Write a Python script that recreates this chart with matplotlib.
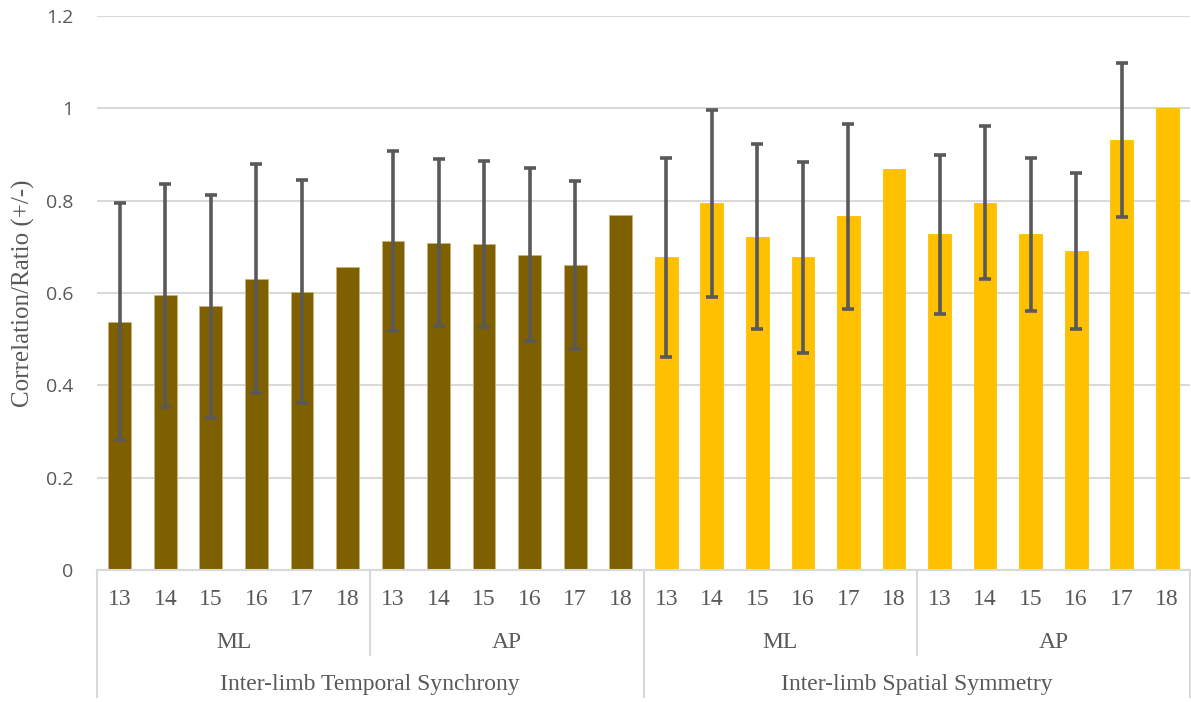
import matplotlib
matplotlib.use("Agg")
import matplotlib.pyplot as plt
import numpy as np
from matplotlib.ticker import FuncFormatter

# ---- data ----
ages = ["13", "14", "15", "16", "17", "18"]
planes = ["ML", "AP"]
measures = ["Inter-limb Temporal Synchrony", "Inter-limb Spatial Symmetry"]

temporal_ml_mean = [0.538, 0.595, 0.571, 0.631, 0.603, 0.657]
temporal_ml_sd = [0.256, 0.242, 0.241, 0.248, 0.242, None]
temporal_ap_mean = [0.712, 0.709, 0.707, 0.683, 0.660, 0.768]
temporal_ap_sd = [0.195, 0.181, 0.180, 0.187, 0.182, None]
spatial_ml_mean = [0.677, 0.794, 0.722, 0.677, 0.766, 0.868]
spatial_ml_sd = [0.215, 0.203, 0.200, 0.207, 0.201, None]
spatial_ap_mean = [0.727, 0.796, 0.727, 0.690, 0.931, 1.000]
spatial_ap_sd = [0.173, 0.165, 0.166, 0.169, 0.167, None]

ylabel = "Correlation/Ratio (+/-)"

brown = "#7F6000"
gold = "#FFC000"
grid_c = "#D9D9D9"
text_c = "#595959"
err_c = "#595959"

means = temporal_ml_mean + temporal_ap_mean + spatial_ml_mean + spatial_ap_mean
sds = temporal_ml_sd + temporal_ap_sd + spatial_ml_sd + spatial_ap_sd
colors = [brown] * 12 + [gold] * 12
x = np.arange(len(means))

fig = plt.figure(figsize=(11.91, 7.02), dpi=100)
ax = fig.add_axes([97 / 1191, 132 / 702, 1093 / 1191, 554 / 702])

ax.bar(x, means, width=0.5, color=colors, zorder=2,
       edgecolor=["#C8B27A"] * 12 + [gold] * 12, linewidth=0.6)

ex = [xi for xi, s in zip(x, sds) if s is not None]
ey = [m for m, s in zip(means, sds) if s is not None]
es = [s for s in sds if s is not None]
ax.errorbar(ex, ey, yerr=es, fmt="none", ecolor=err_c, elinewidth=2.6,
            capsize=4, capthick=2.6, zorder=3)

ax.set_xlim(-0.5, len(means) - 0.5)
ax.set_ylim(0, 1.2)
ax.set_yticks(np.arange(0, 1.21, 0.2))
ax.yaxis.set_major_formatter(FuncFormatter(lambda v, p: f"{v:g}"))
ax.grid(axis="y", color=grid_c, linewidth=1.5, zorder=0)
ax.set_axisbelow(True)
for s in ["top", "right", "left"]:
    ax.spines[s].set_visible(False)
ax.spines["bottom"].set_color(grid_c)
ax.spines["bottom"].set_linewidth(1.5)
ax.tick_params(axis="y", length=0, labelsize=14, labelcolor=text_c, pad=17)
for lab in ax.get_yticklabels():
    lab.set_family("Open Sans")
ax.set_xticks([])

ax.set_ylabel(ylabel, family="Liberation Serif", fontsize=18, color=text_c)
ax.yaxis.set_label_coords((35 - 97) / 1093, 0.5)

trans = ax.get_xaxis_transform()
serif = "Liberation Serif"
# level 1: ages
for i in range(len(means)):
    ax.text(x[i], -0.054, ages[i % 6], transform=trans, ha="center", va="center",
            family=serif, fontsize=17, color=text_c, clip_on=False)
# level 2: planes
for g in range(4):
    ax.text(g * 6 + 2.5, -0.131, planes[g % 2], transform=trans, ha="center",
            va="center", family=serif, fontsize=17, color=text_c, clip_on=False)
# level 3: measures
for m in range(2):
    ax.text(m * 12 + 5.5, -0.207, measures[m], transform=trans, ha="center",
            va="center", family=serif, fontsize=17, color=text_c, clip_on=False)

# separator lines
for b in range(5):
    xb = b * 6 - 0.5
    ybot = -0.229 if b % 2 == 0 else -0.153
    ax.plot([xb, xb], [0, ybot], transform=trans, color=grid_c, linewidth=1.5,
            clip_on=False)

fig.savefig("out.png", dpi=100)
